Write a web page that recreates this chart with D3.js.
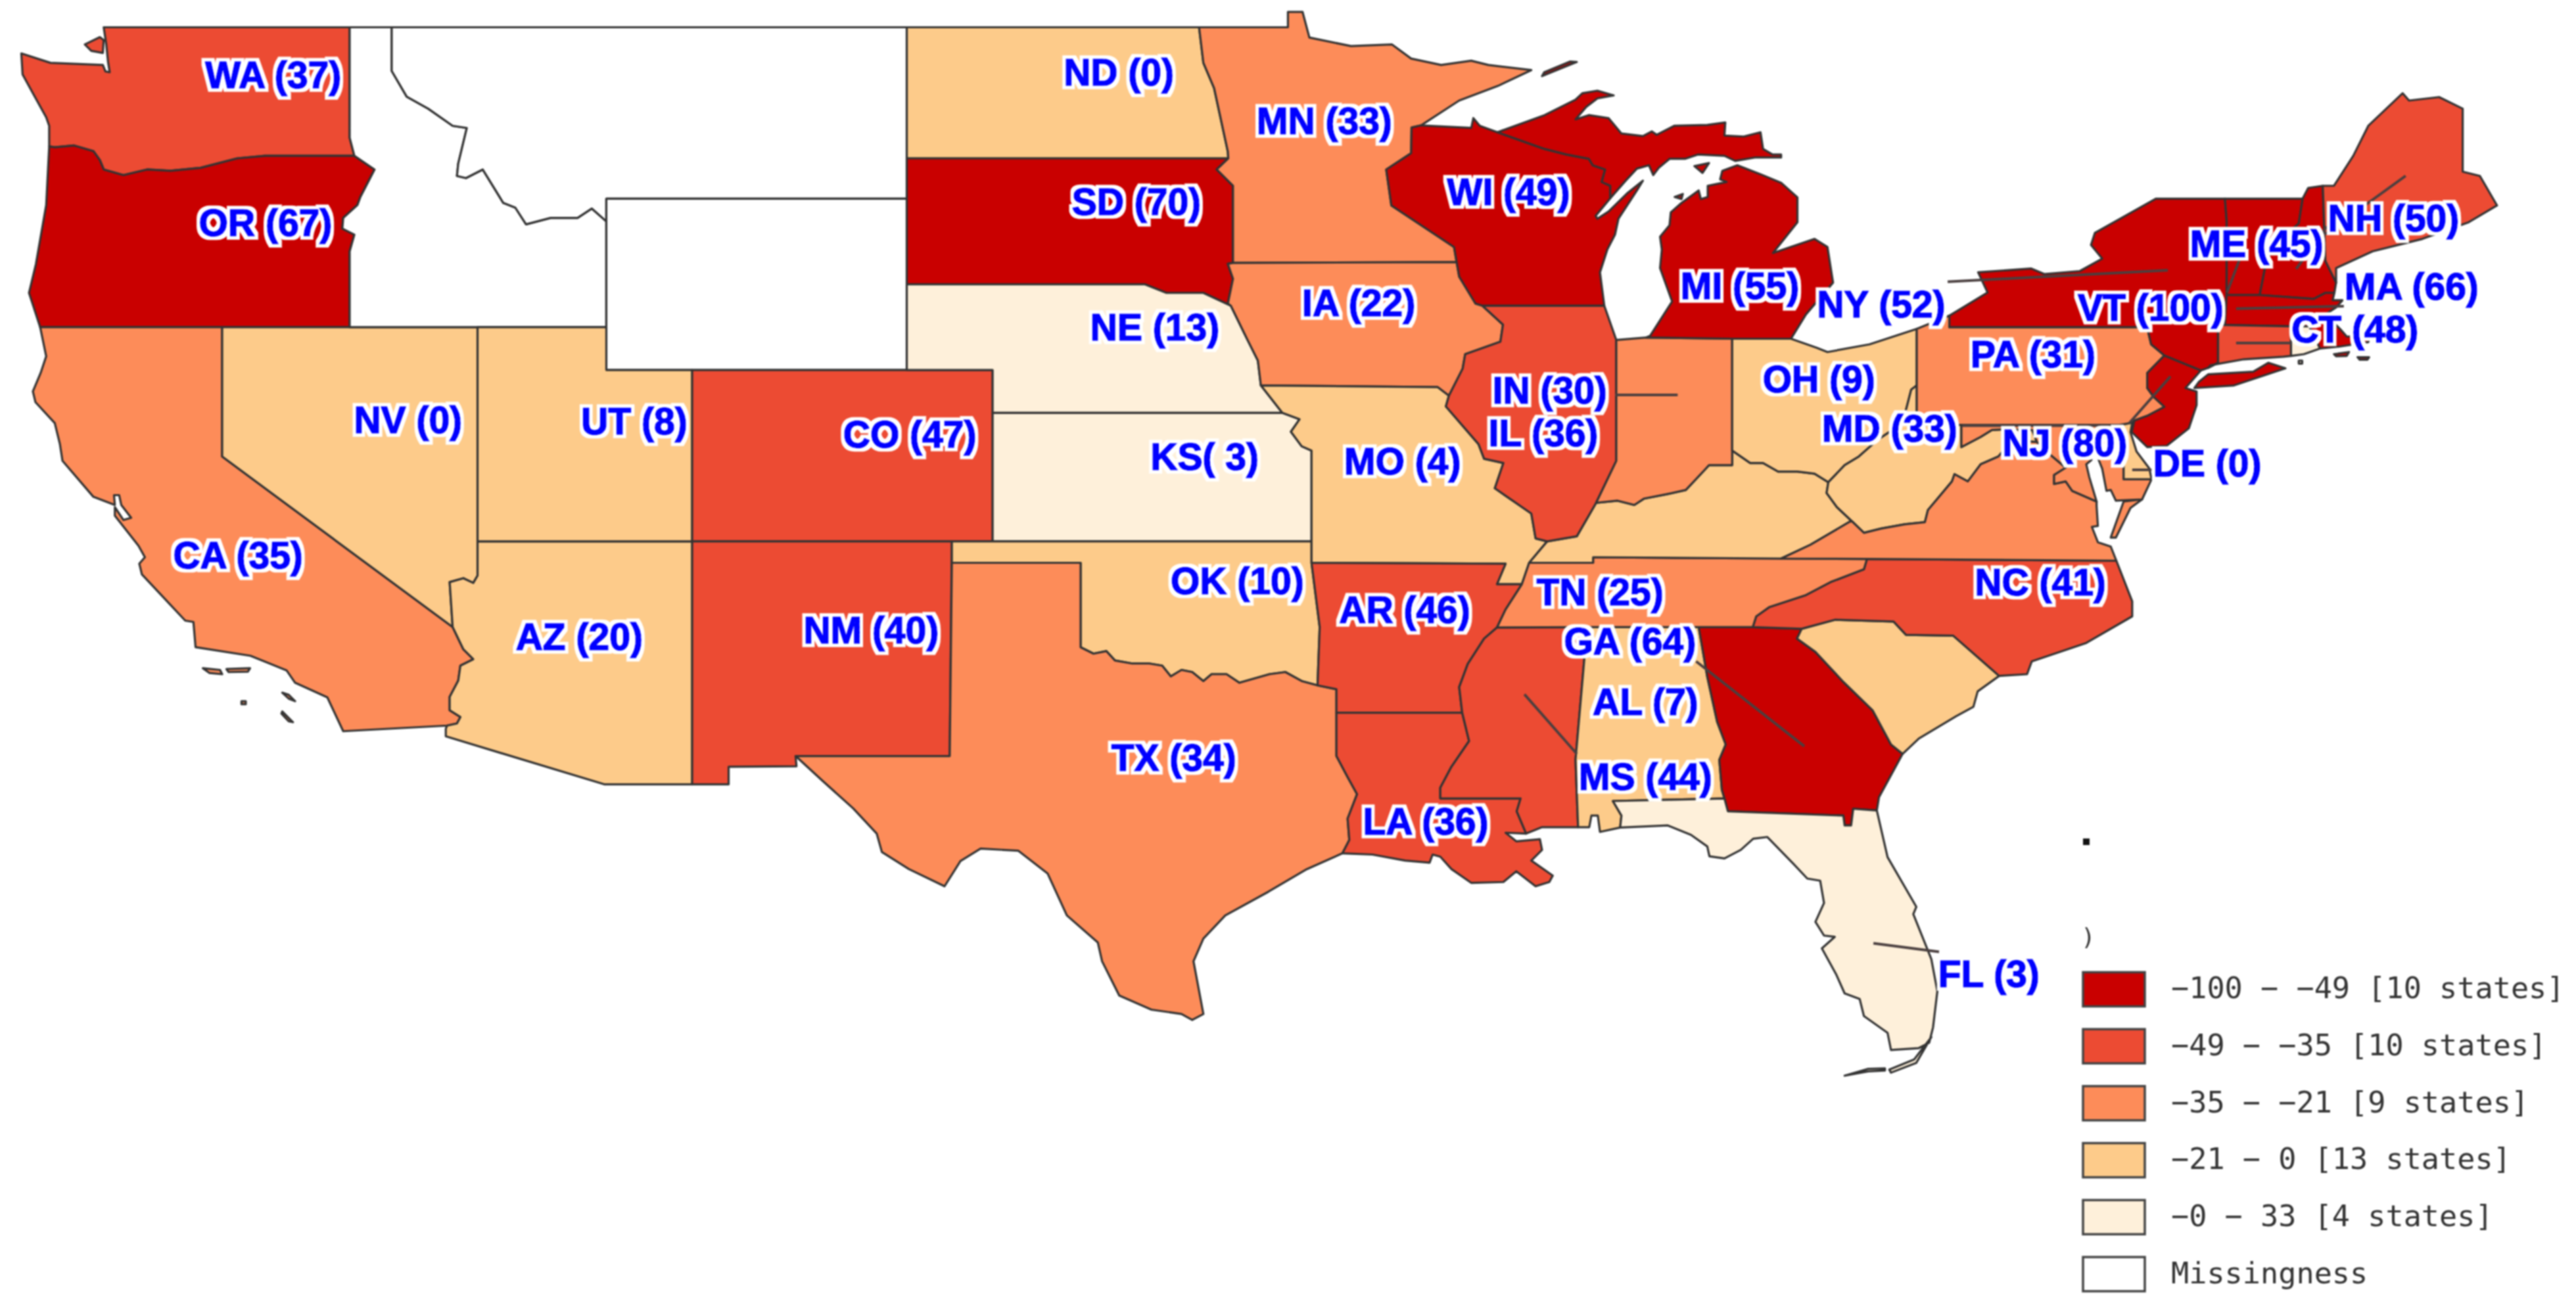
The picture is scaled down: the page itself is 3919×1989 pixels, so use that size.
<!DOCTYPE html>
<html>
<head>
<meta charset="utf-8">
<script src="https://cdn.jsdelivr.net/npm/d3@7/dist/d3.min.js"></script>
<style>
html, body { margin: 0; padding: 0; background: #fff; overflow: hidden; }
svg { display: block; }
</style>
</head>
<body>
<script>
const WIDTH = 3919
const HEIGHT = 1989

// legend classes, darkest first
const legendLabels = ["−100 − −49 [10 states]", "−49 − −35 [10 states]", "−35 − −21 [9 states]", "−21 − 0 [13 states]", "−0 − 33 [4 states]", "Missingness"]
const classColors = ["#c90000", "#ec4b33", "#fd8c59", "#fdcb8a", "#fef0da", "#ffffff"]
const classStates = [
	["OR", "SD", "WI", "MI", "NY", "VT", "NJ", "GA", "MA", "NH"],
	["WA", "CO", "NM", "AR", "LA", "MS", "IL", "NC", "ME", "CT"],
	["CA", "TX", "MN", "IA", "IN", "TN", "PA", "MD", "VA"],
	["ND", "NV", "UT", "AZ", "MO", "OK", "OH", "KY", "WV", "SC", "AL", "DE"],
	["NE", "KS", "FL", "RI"],
	["ID", "MT", "WY"]
]

// state labels as printed on the map
const labelCodes = ["WA", "OR", "CA", "NV", "UT", "AZ", "NM", "CO", "ND", "SD", "NE", "KS", "OK", "TX", "MN", "IA", "MO", "AR", "LA", "WI", "IL", "IN", "MI", "TN", "MS", "AL", "GA", "FL", "NC", "OH", "NY", "PA", "MD", "NJ", "DE", "VT", "ME", "NH", "MA", "CT"]
const labelTexts = ["WA (37)", "OR (67)", "CA (35)", "NV (0)", "UT (8)", "AZ (20)", "NM (40)", "CO (47)", "ND (0)", "SD (70)", "NE (13)", "KS( 3)", "OK (10)", "TX (34)", "MN (33)", "IA (22)", "MO (4)", "AR (46)", "LA (36)", "WI (49)", "IL (36)", "IN (30)", "MI (55)", "TN (25)", "MS (44)", "AL (7)", "GA (64)", "FL (3)", "NC (41)", "OH (9)", "NY (52)", "PA (31)", "MD (33)", "NJ (80)", "DE (0)", "VT (100)", "ME (45)", "NH (50)", "MA (66)", "CT (48)"]
const labelLon = [-118.81, -118.99, -119.63, -115.67, -110.40, -111.68, -104.88, -103.98, -99.11, -98.70, -98.27, -97.11, -96.35, -97.83, -94.32, -93.52, -92.50, -92.45, -91.96, -90.03, -89.22, -89.07, -84.64, -87.90, -86.84, -86.84, -87.20, -78.84, -77.64, -82.80, -81.35, -77.81, -81.15, -77.07, -73.75, -75.07, -72.60, -69.41, -68.99, -70.31]
const labelLat = [47.90, 44.45, 36.69, 39.85, 39.81, 34.79, 34.93, 39.51, 47.95, 44.94, 42.01, 38.98, 36.09, 31.96, 46.83, 42.58, 38.88, 35.41, 30.47, 45.17, 39.53, 40.53, 42.98, 35.83, 31.51, 33.27, 34.68, 26.92, 36.05, 40.80, 42.55, 41.37, 39.64, 39.31, 38.83, 42.47, 43.96, 44.55, 42.96, 41.96]

// leader lines from labels into small states: lon, lat, lon, lat
const leaders = [
	[-79.80, 43.06, -74.67, 43.33], [-69.13, 45.53, -71.73, 43.65], [-71.68, 43.36, -70.96, 44.35],
	[-73.00, 43.58, -73.29, 42.81], [-73.08, 42.43, -70.57, 42.49], [-73.08, 41.63, -71.79, 41.63],
	[-74.61, 40.85, -75.57, 39.76], [-75.50, 38.67, -75.05, 38.67], [-79.46, 39.70, -75.80, 39.70],
	[-87.55, 40.42, -86.09, 40.42], [-85.66, 34.20, -83.14, 32.22], [-89.66, 33.43, -88.44, 32.04],
	[-81.53, 27.62, -80.00, 27.42]
]

// borders shared by two states
const columbia = [[-124.03,46.22],[-123.9,46.2],[-123.45,46.24],[-123.0,46.11],[-122.85,45.9],[-122.76,45.68],[-122.3,45.55],[-121.75,45.68],[-121.2,45.65],[-120.5,45.72],[-119.65,45.94],[-119.0,46.0],[-116.92,46.0]]
const snake = [[-116.92,46.0],[-116.45,45.68],[-116.78,45.04],[-116.85,44.85],[-117.18,44.55],[-117.2,44.3],[-116.92,44.16],[-117.03,43.77],[-117.03,42]]
const coloradoRiver = [[-114.63,35],[-114.38,34.48],[-114.15,34.25],[-114.45,34.1],[-114.5,33.75],[-114.7,33.37],[-114.7,33.06],[-114.45,32.9],[-114.53,32.75],[-114.76,32.7]]
const idahoMontana = [[-116.05,49],[-116.05,47.98],[-115.7,47.38],[-115.2,47.1],[-114.63,46.7],[-114.3,46.65],[-114.5,45.82],[-114.53,45.53],[-114.32,45.48],[-113.93,45.68],[-113.45,44.9],[-113.17,44.79],[-112.92,44.4],[-112.35,44.55],[-111.72,44.55],[-111.39,44.77],[-111.05,44.47]]
const redRiver = [[-94.48,33.64],[-94.85,33.74],[-95.23,33.95],[-95.6,33.9],[-96.3,33.7],[-96.6,33.9],[-96.95,33.9],[-97.14,33.74],[-97.4,33.95],[-97.65,34.0],[-97.9,33.85],[-98.1,34.1],[-98.4,34.15],[-98.8,34.15],[-99.2,34.22],[-99.4,34.44],[-99.7,34.38],[-100,34.53]]
const sabine = [[-94.04,31.99],[-93.78,31.5],[-93.56,31.1],[-93.78,30.53],[-93.74,30.03],[-93.9,29.72]]
const lowerMiss = [[-90.3,34.99],[-90.6,34.73],[-90.98,34.14],[-91.18,33.6],[-91.11,33],[-90.95,32.34],[-91.36,31.74],[-91.62,31.25],[-91.62,31]]
const midMiss = [[-89.72,36],[-90.1,35.41],[-90.3,34.99]]
const bootheel = [[-90.1,36.48],[-90.3,36],[-89.72,36]]
const ilMo = [[-91.42,40.4],[-91.49,40.15],[-90.73,39.27],[-90.6,38.93],[-90.15,38.83],[-90.35,38.24],[-89.5,37.65],[-89.4,37.07],[-89.13,37]]
const iaIl = [[-90.64,42.5],[-90.16,42.06],[-90.22,41.66],[-91.04,41.37],[-91.1,41.03],[-91.42,40.4]]
const mnWi = [[-92.29,46.66],[-92.3,46.06],[-92.88,45.68],[-92.76,44.84],[-91.3,43.87],[-91.24,43.52]]
const iaWi = [[-91.24,43.52],[-91.18,43.18],[-90.8,42.55],[-90.64,42.5]]
const wiMi = [[-90.29,46.55],[-89.19,46.16],[-88.68,46.03],[-88.16,45.93],[-88.07,45.78],[-87.78,45.68],[-87.86,45.39],[-87.66,45.3],[-87.66,45.01]]
const mnND = [[-97.24,49],[-97.14,48.17],[-96.89,47.58],[-96.57,46.1],[-96.56,45.94]]
const mnSD = [[-96.56,45.94],[-96.83,45.68],[-96.45,45.3],[-96.45,43.5]]
const iaSD = [[-96.45,43.5],[-96.57,43.48],[-96.45,43.13],[-96.57,42.55],[-96.5,42.5]]
const iaNE = [[-96.5,42.5],[-96.12,41.72],[-95.87,41.22],[-95.8,40.64]]
const moKS = [[-95.3,40],[-94.9,39.85],[-95.1,39.56],[-94.85,39.22],[-94.62,39.12],[-94.62,37]]
const sdNE = [[-104.05,43],[-98.5,43],[-98,42.8],[-97.14,42.8],[-96.5,42.5]]
const ohioKyIn = [[-84.82,39.12],[-84.82,38.78],[-85.36,38.78],[-85.46,38.67],[-85.9,38.2],[-86.35,38.1],[-86.87,38],[-87.1,37.85],[-87.49,37.95],[-87.99,37.9]]
const ohioKyIl = [[-87.99,37.9],[-88.44,37.12],[-89.13,37]]
const ohioOhKy = [[-84.82,39.12],[-84.4,38.83],[-84.1,38.83],[-83.75,38.63],[-83.3,38.63],[-82.9,38.58],[-82.58,38.38]]
const ohioWv = [[-82.58,38.38],[-82.2,38.78],[-81.87,38.98],[-81.43,39.37],[-80.85,39.76],[-80.65,40.54],[-80.52,40.64]]
const kyWv = [[-82.58,38.38],[-82.62,38.13],[-82.38,37.8],[-82.03,37.47]]
const vaWv = [[-82.03,37.47],[-81.75,37.2],[-81.35,37.3],[-80.8,37.4],[-80.33,37.45],[-80.26,37.73],[-79.7,38.4],[-79.64,38.57],[-79.33,38.4],[-79.03,38.8],[-78.62,38.98],[-78.3,39.35],[-77.72,39.32]]
const mdWv = [[-79.48,39.2],[-79.03,39.44],[-78.77,39.6],[-78.4,39.62],[-78,39.6],[-77.83,39.6],[-77.72,39.32]]
const potomac = [[-77.72,39.32],[-77.5,39.1],[-77.05,38.72],[-77.32,38.55],[-77.32,38.34],[-77.05,38.4],[-76.9,38.18],[-76.33,37.93]]
const kyVa = [[-83.68,36.6],[-83,36.92],[-82.08,37.46],[-82.03,37.47]]
const tnNc = [[-81.68,36.59],[-81.75,36.35],[-82.53,36.05],[-83.12,35.74],[-83.95,35.47],[-84.26,35.25],[-84.34,35]]
const gaSc = [[-83.2,34.96],[-83.31,34.73],[-82.88,34.42],[-82.23,33.72],[-81.55,33.06],[-81.12,32.26],[-80.85,32.04]]
const alGa = [[-85.6,35],[-85.4,33.84],[-85.17,32.79],[-84.97,32.26],[-85.12,31.9],[-85.06,31.2],[-85,31]]
const flGa = [[-85,31],[-84.92,30.7],[-82.23,30.6],[-82.2,30.37],[-82.05,30.37],[-82,30.76],[-81.45,30.72]]
const ncSc = [[-83.2,34.96],[-82.43,35.17],[-81.06,35.13],[-80.77,34.82],[-79.67,34.8],[-78.6,33.86]]
const delawareRiver = [[-75.35,42],[-75.13,41.9],[-75.06,41.6],[-74.75,41.34],[-75.15,40.93],[-75.15,40.58],[-75,40.37],[-74.75,40.14],[-75.15,39.93],[-75.45,39.82],[-75.5,39.77]]
const connRiver = [[-71.53,45],[-71.62,44.42],[-72.05,44.05],[-72.37,43.57],[-72.53,42.75]]

const rev = a => a.slice().reverse()

const WA = [[-122.76,49],[-117.03,49],[-117.03,46.42],...rev(columbia),[-124.03,46.7],[-124.1,46.9],[-124.35,47.35],[-124.65,47.9],[-124.68,48.39],[-124,48.17],[-122.78,48.12],[-122.72,47.97],[-122.62,47.95],[-122.66,48.2],[-122.7,48.6]]
const WAisle = [[-123.2,48.6],[-122.85,48.77],[-122.76,48.7],[-122.78,48.4],[-123.05,48.45]]
const OR = [...columbia,...snake,[-120,42],[-124.24,42],[-124.5,42.8],[-124.34,43.47],[-124.1,44.85]]
const CA = [[-124.24,42],[-120,42],[-120,38.98],...coloradoRiver,[-117.18,32.57],[-117.55,33.36],[-118.3,33.7],[-118.5,33.99],[-119.34,34.33],[-120.62,34.53],[-120.67,35.12],[-120.86,35.15],[-121.87,36.23],[-121.93,36.48],[-121.8,36.63],[-121.95,36.9],[-122.5,37.6],[-122.5,37.8],[-122.3,37.5],[-122.12,37.55],[-122.35,37.85],[-122.4,38.08],[-122.52,38.08],[-122.5,37.85],[-123,38.04],[-123.72,38.88],[-123.78,39.27],[-123.9,39.76],[-124.35,40.25],[-124.41,40.5],[-124.23,40.93],[-124.1,41.32]]
const CAisles = [
	[[-120.45,34.04],[-120.05,34],[-120,33.9],[-120.3,33.93]],
	[[-119.9,34.02],[-119.35,34.04],[-119.4,33.96],[-119.85,33.95]],
	[[-118.6,33.47],[-118.45,33.42],[-118.3,33.27],[-118.45,33.33]],
	[[-118.6,33.03],[-118.35,32.78],[-118.45,32.8],[-118.62,32.98]],
	[[-119.55,33.27],[-119.45,33.27],[-119.45,33.2],[-119.55,33.2]]
]
const NV = [[-120,42],[-114.05,42],[-114.05,36.2],[-114.15,36.03],[-114.38,36.14],[-114.7,36.05],[-114.63,35],[-120,38.98]]
const AZ = [[-114.05,37],[-109.05,37],[-109.05,31.33],[-111.1,31.33],[-114.79,32.45],[-114.79,32.63],...rev(coloradoRiver),[-114.7,36.05],[-114.38,36.14],[-114.15,36.03],[-114.05,36.2]]
const ID = [[-117.03,49],...idahoMontana,[-111.05,42],[-117.03,42],...rev(snake),[-117.03,46.42]]
const MT = [...idahoMontana,[-111.05,45],[-104.05,45],[-104.05,49]]
const WY = [[-111.05,45],[-104.05,45],[-104.05,41],[-111.05,41]]
const UT = [[-114.05,42],[-111.05,42],[-111.05,41],[-109.05,41],[-109.05,37],[-114.05,37]]
const CO = [[-109.05,41],[-102.05,41],[-102.05,37],[-109.05,37]]
const NM = [[-109.05,37],[-103,37],[-103.05,31.99],[-106.64,31.99],[-106.62,31.75],[-108.2,31.74],[-108.2,31.33],[-109.05,31.33]]
const ND = [[-104.05,49],...mnND,[-104.05,45.94]]
const SD = [[-104.05,45.94],[-96.56,45.94],...mnSD.slice(1),...iaSD.slice(1),...rev(sdNE).slice(1)]
const NE = [...sdNE,...iaNE.slice(1),[-95.3,40],[-102.05,40],[-102.05,41],[-104.05,41]]
const KS = [[-102.05,40],...moKS,[-102.05,37]]
const OK = [[-103,37],[-94.62,37],[-94.62,36.5],[-94.43,35],...redRiver,[-100,36.5],[-103,36.5]]
const TX = [[-103,36.5],[-100,36.5],...rev(redRiver),[-94.04,33.55],...sabine,[-94.73,29.35],[-95.63,28.82],[-96.63,28.27],[-97.14,27.73],[-97.37,27.2],[-97.14,25.97],[-97.4,25.83],[-97.65,25.97],[-98.35,26.07],[-99.1,26.4],[-99.5,27.2],[-99.6,27.64],[-100.32,28.27],[-100.77,29.25],[-101.45,29.78],[-102.33,29.83],[-102.8,29.54],[-103.17,28.95],[-104,29.35],[-104.63,29.75],[-104.75,30.18],[-105.3,30.77],[-106,31.4],[-106.64,31.99],[-103.05,31.99]]
const MN = [[-97.24,49],[-95.17,49],[-95.17,49.36],[-94.83,49.36],[-94.67,48.76],[-93.7,48.56],[-92.75,48.6],[-92.3,48.27],[-91.6,48.12],[-90.9,48.22],[-90.5,48.12],[-89.5,48],[-90.28,47.63],[-91.18,47.29],[-92.07,46.71],...mnWi,...rev(mnSD),...rev(mnND).slice(1)]
const IA = [[-96.45,43.5],[-91.24,43.52],...iaWi.slice(1),...iaIl.slice(1),[-91.68,40.6],[-95.8,40.64],...rev(iaNE).slice(1),...rev(iaSD).slice(1)]
const MO = [[-95.8,40.64],[-91.68,40.6],...ilMo,[-89.55,36.5],[-89.72,36],[-90.3,36],[-90.1,36.48],[-94.62,36.5],...rev(moKS)]
const AR = [[-94.62,36.5],...bootheel,...midMiss.slice(1),...lowerMiss.slice(1,5),[-94.04,33],[-94.04,33.55],[-94.48,33.64],[-94.43,35]]
const LA = [[-94.04,33],[-91.11,33],[-90.95,32.34],[-91.36,31.74],[-91.62,31.25],[-91.62,31],[-89.75,31],[-89.84,30.7],[-89.62,30.18],[-90.1,30.2],[-89.85,30],[-89.3,30.05],[-89.25,29.8],[-89.5,29.55],[-89,29.2],[-89.08,29.05],[-89.4,28.95],[-89.85,29.3],[-90.15,29.05],[-90.9,29.03],[-91.36,29.35],[-91.62,29.64],[-91.8,29.69],[-91.87,29.5],[-92.44,29.55],[-93.2,29.69],[-93.9,29.72],...rev(sabine).slice(1)]
const MS = [[-90.3,34.99],[-88.2,35],[-88.47,31.9],[-88.41,30.33],[-89.25,30.33],[-89.62,30.18],[-89.84,30.7],[-89.75,31],[-91.62,31],...rev(lowerMiss).slice(1)]
const AL = [[-88.2,35],...alGa,[-87.6,30.94],[-87.4,30.6],[-87.43,30.32],[-87.9,30.22],[-87.95,30.6],[-88.1,30.6],[-88.15,30.33],[-88.41,30.33],[-88.47,31.9]]
const GA = [[-85.6,35],[-84.34,35],[-83.2,34.96],...gaSc.slice(1),[-81.16,31.47],[-81.4,31.03],[-81.45,30.72],...rev(flGa).slice(1),...rev(alGa).slice(1)]
const FL = [[-87.6,30.94],...flGa,[-81.2,29.63],[-80.53,28.47],[-80.6,28.3],[-80.18,27.25],[-80.04,26.5],[-80.14,25.66],[-80.23,25.3],[-80.48,25.17],[-81.12,25.13],[-81.2,25.53],[-81.75,25.92],[-81.85,26.32],[-82.2,26.45],[-82.4,26.9],[-82.73,27.5],[-82.43,27.77],[-82.68,27.8],[-82.88,28.12],[-82.68,28.56],[-82.77,29.08],[-83.07,29.13],[-83.4,29.48],[-84,30.1],[-84.33,30.06],[-84.62,29.8],[-85,29.6],[-85.35,29.65],[-85.4,29.88],[-85.78,30.15],[-86.32,30.37],[-87.43,30.32],[-87.4,30.6]]
const FLkeys = [
	[[-81.26,24.7],[-81.65,24.69],[-82.2,24.53],[-81.65,24.63],[-81.26,24.65]],
	[[-81.16,24.67],[-80.58,24.91],[-80.18,25.43],[-80.53,24.83],[-81.12,24.6]]
]
const SC = [...ncSc,[-79.1,33.5],[-79.2,33.14],[-79.6,32.92],[-80.47,32.4],...rev(gaSc).slice(0,-1)]
const NC = [[-75.87,36.55],[-81.68,36.59],...tnNc.slice(1),[-83.2,34.96],...ncSc.slice(1),[-77.95,33.9],[-77.84,34.2],[-76.57,34.63],[-75.5,35.25],[-75.5,35.6]]
const TN = [[-89.55,36.5],[-88.06,36.5],[-88.06,36.63],[-83.68,36.6],...tnNc,[-85.6,35],[-88.2,35],[-90.3,34.99],...rev(midMiss).slice(1)]
const KY = [[-89.13,37],...rev(ohioKyIl).slice(1),...rev(ohioKyIn).slice(1),...ohioOhKy.slice(1),...kyWv.slice(1),...rev(kyVa).slice(1),[-88.06,36.63],[-88.06,36.5],[-89.55,36.5]]
const WI = [[-92.29,46.66],[-92.07,46.71],[-90.9,46.65],[-90.85,46.88],[-90.7,46.7],...wiMi,[-88,44.6],[-87.96,44.53],[-87.7,44.7],[-87.25,45.14],[-86.9,45.42],[-87.04,45.19],[-87.47,44.53],[-87.55,44.16],[-87.73,43.81],[-87.9,43.28],[-87.8,42.5],...rev(iaWi),...rev(mnWi).slice(1)]
const IL = [[-87.8,42.5],[-87.52,41.7],[-87.52,38.88],[-87.99,37.9],...ohioKyIl.slice(1),...rev(ilMo).slice(1),...rev(iaIl).slice(1)]
const IN = [[-87.52,41.7],[-86.82,41.76],[-84.82,41.73],...ohioKyIn,[-87.52,38.88]]
const MIlower = [[-86.82,41.76],[-84.82,41.73],[-83.45,41.73],[-83.1,42.3],[-82.47,43.04],[-82.6,43.87],[-82.9,44.06],[-83.87,43.73],[-83.3,44.45],[-83.3,45.03],[-83.68,45.37],[-84.16,45.57],[-84.7,45.78],[-85.05,45.65],[-85.1,45.45],[-84.95,45.39],[-85.39,45.3],[-85.39,45.04],[-85.55,44.99],[-85.6,45.19],[-86,44.9],[-86.25,44.68],[-86.28,44.38],[-86.5,44.11],[-86.46,43.81],[-86.5,43.38],[-86.22,42.6],[-86.73,41.8]]
const MIupper = [...wiMi,[-87.3,45.42],[-87.04,45.7],[-86.76,45.78],[-86.66,45.55],[-86.53,45.72],[-86.28,45.93],[-85.92,45.93],[-85.62,46.03],[-85,46],[-84.75,45.88],[-84.29,45.96],[-83.68,45.96],[-83.68,46.03],[-83.88,46.03],[-84.1,46.16],[-84.16,46.55],[-84.55,46.45],[-85,46.47],[-84.98,46.78],[-85.4,46.72],[-86.17,46.7],[-86.58,46.49],[-86.69,46.57],[-86.9,46.46],[-87.4,46.52],[-87.7,46.88],[-88.16,46.95],[-88.47,46.85],[-88.22,47.14],[-87.96,47.34],[-87.58,47.41],[-87.96,47.52],[-88.31,47.46],[-88.47,47.31],[-89.19,46.95]]
const MIroyale = [[-89.25,47.86],[-88.44,48.19],[-88.6,48.2],[-89.2,47.95]]
const MIbeaver = [[-85.7,45.76],[-85.36,45.83],[-85.51,45.6]]
const MImanitou = [[-86.16,45.04],[-85.97,45.11],[-86,44.99]]
const OH = [[-84.82,41.73],[-83.45,41.73],[-82.85,41.52],[-82.6,41.42],[-81.62,41.6],[-80.52,41.96],[-80.52,40.64],...rev(ohioWv).slice(1),...rev(ohioOhKy).slice(1)]
const WV = [[-80.52,40.64],[-80.52,39.72],[-79.48,39.72],...mdWv,...rev(vaWv).slice(1),...rev(kyWv).slice(1),...ohioWv.slice(1)]
const VA = [...potomac,[-76.33,37.83],[-76.3,37.36],[-76.44,37.34],[-76.3,36.98],[-76,36.88],[-75.87,36.55],[-81.68,36.59],...kyVa,...vaWv.slice(1)]
const VAshore = [[-76,37.09],[-75.7,37.93],[-75.27,37.98],[-75.54,37.78],[-75.88,37.09]]
const MD = [[-79.48,39.72],[-75.79,39.72],[-75.7,38.75],[-75.7,38.45],[-75.05,38.45],[-75.27,37.98],[-75.88,37.95],[-76,38.2],[-76.1,38.18],[-76.2,38.7],[-76.3,38.95],[-76.3,39.2],[-76.45,39.2],[-76.45,38.9],[-76.57,38.8],[-76.5,38.5],...rev(potomac),...rev(mdWv).slice(1)]
const DE = [[-75.79,39.72],[-75.5,39.77],[-75.54,39.55],[-75.4,39.1],[-75.1,38.7],[-75.05,38.45],[-75.7,38.45],[-75.7,38.75]]
const PA = [[-80.52,41.96],[-79.76,42.27],[-79.76,42],...delawareRiver,[-75.79,39.72],[-80.52,39.72]]
const NJ = [[-74.75,41.34],[-73.9,40.99],[-74.26,40.58],[-74,40.5],[-74,40.18],[-74.18,39.64],[-74.7,39.23],[-75.15,39.2],[-75.51,39.55],[-75.45,39.82],[-75.15,39.93],[-74.75,40.14],[-75,40.37],[-75.15,40.58],[-75.15,40.93]]
const NY = [[-79.76,42],[-79.76,42.27],[-78.87,42.81],[-79.09,43.28],[-77.86,43.37],[-77.55,43.24],[-76.72,43.31],[-76.2,43.6],[-76.46,43.92],[-76.37,44.2],[-74.95,45],[-73.34,45],[-73.3,44.48],[-73.3,42.75],[-73.34,42.05],[-73.5,42.05],[-73.5,41.17],[-73.73,41.05],[-73.9,40.99],[-74.75,41.34],[-75.06,41.6],[-75.13,41.9],[-75.35,42]]
const NYisland = [[-74.05,40.58],[-73.13,40.64],[-71.93,41.04],[-72.33,41.17],[-72.68,40.96],[-73.73,40.9],[-73.95,40.72]]
const VT = [[-73.34,45],...connRiver,[-73.3,42.75],[-73.3,44.48]]
const NH = [...connRiver,[-71.27,42.66],[-71,42.8],[-70.79,42.8],[-70.75,43.04],[-71,43.55],[-71.06,45.3],[-71.4,45.25]]
const ME = [[-71.06,45.3],[-70.8,45.3],[-70.35,46],[-70,46.7],[-69.2,47.46],[-69.05,47.29],[-68.35,47.37],[-67.8,47.1],[-67.8,45.63],[-67.4,45.53],[-67,44.84],[-67.66,44.45],[-68.74,44.06],[-69.9,43.77],[-70.75,43.38],[-70.75,43.04],[-71,43.55]]
const MA = [[-73.3,42.75],[-72.53,42.75],[-71.27,42.66],[-71,42.8],[-70.79,42.8],[-70.83,42.63],[-70.6,42.63],[-70.75,42.46],[-71,42.3],[-70.65,41.95],[-70.5,41.78],[-70.1,41.8],[-70.25,42.07],[-70.05,42.05],[-69.95,41.85],[-70,41.65],[-70.65,41.55],[-71.13,41.5],[-71.2,41.67],[-71.38,42.02],[-71.8,42.02],[-73.34,42.05]]
const MAisles = [
	[[-70.8,41.37],[-70.45,41.42],[-70.5,41.33],[-70.75,41.32]],
	[[-70.25,41.3],[-69.98,41.3],[-70.02,41.24],[-70.2,41.24]]
]
const CT = [[-73.5,42.05],[-73.34,42.05],[-71.8,42.02],[-71.8,41.33],[-71.98,41.31],[-72.9,41.25],[-73.68,41.11],[-73.73,41.05],[-73.5,41.17]]
const RI = [[-71.8,42.02],[-71.38,42.02],[-71.2,41.67],[-71.13,41.5],[-71.5,41.37],[-71.8,41.33]]
const RIisle = [[-71.62,41.22],[-71.54,41.22],[-71.54,41.15],[-71.62,41.15]]

const stateRings = {
	WA: [WA, WAisle], OR: [OR], CA: [CA, ...CAisles], NV: [NV], AZ: [AZ], ID: [ID], MT: [MT], WY: [WY], UT: [UT], CO: [CO], NM: [NM],
	ND: [ND], SD: [SD], NE: [NE], KS: [KS], OK: [OK], TX: [TX], MN: [MN], IA: [IA], MO: [MO], AR: [AR], LA: [LA], MS: [MS], AL: [AL],
	GA: [GA], FL: [FL, ...FLkeys], SC: [SC], NC: [NC], TN: [TN], KY: [KY], WI: [WI], IL: [IL], IN: [IN], MI: [MIlower, MIupper, MIroyale, MIbeaver, MImanitou],
	OH: [OH], WV: [WV], VA: [VA, VAshore], MD: [MD], DE: [DE], PA: [PA], NJ: [NJ], NY: [NY, NYisland], VT: [VT], NH: [NH], ME: [ME],
	MA: [MA, ...MAisles], CT: [CT], RI: [RI, RIisle]
}

const x = d3.scaleLinear().domain([-125, -66]).range([11.5, 3864.2])
const y = d3.scaleLinear().domain([49, 25]).range([41.5, 1606.3])
const line = d3.line().x(d => x(d[0])).y(d => y(d[1]))

const classOf = {}
classStates.forEach((list, i) => list.forEach(s => { classOf[s] = i }))
const fillScale = d3.scaleOrdinal().domain(d3.range(classColors.length)).range(classColors)

const svg = d3.select("body").append("svg")
	.attr("width", WIDTH)
	.attr("height", HEIGHT)
	.style("filter", "blur(0.9px)")

svg.append("rect").attr("width", WIDTH).attr("height", HEIGHT).attr("fill", "#fff")

// white halo round the labels
const halo = svg.append("defs").append("filter")
	.attr("id", "halo")
	.attr("x", "-10%").attr("y", "-20%").attr("width", "120%").attr("height", "140%")
halo.append("feMorphology").attr("in", "SourceAlpha").attr("operator", "dilate").attr("radius", 4.5).attr("result", "grown")
halo.append("feFlood").attr("flood-color", "#fff").attr("result", "white")
halo.append("feComposite").attr("in", "white").attr("in2", "grown").attr("operator", "in").attr("result", "ring")
const haloMerge = halo.append("feMerge")
haloMerge.append("feMergeNode").attr("in", "ring")
haloMerge.append("feMergeNode").attr("in", "SourceGraphic")

// states
svg.append("g").selectAll("path")
	.data(Object.keys(stateRings))
	.join("path")
	.attr("d", code => stateRings[code].map(r => line(r) + "Z").join(""))
	.attr("fill", code => fillScale(classOf[code]))
	.attr("stroke", "#333")
	.attr("stroke-width", 3.2)
	.attr("stroke-linejoin", "round")

// leaders
svg.append("g").selectAll("line")
	.data(leaders)
	.join("line")
	.attr("x1", d => x(d[0])).attr("y1", d => y(d[1]))
	.attr("x2", d => x(d[2])).attr("y2", d => y(d[3]))
	.attr("stroke", "#4a3f3f")
	.attr("stroke-width", 4)

// labels
svg.append("g").attr("filter", "url(#halo)").selectAll("text")
	.data(labelCodes)
	.join("text")
	.attr("x", (d, i) => x(labelLon[i]))
	.attr("y", (d, i) => y(labelLat[i]))
	.attr("dy", "0.36em")
	.attr("text-anchor", "middle")
	.attr("font-family", "'Liberation Sans', Arial, sans-serif")
	.attr("font-weight", "bold")
	.attr("font-size", 57)
	.attr("fill", "#0000ff")
	.attr("stroke", "#0000ff")
	.attr("stroke-width", 1.6)
	.text((d, i) => labelTexts[i])

// legend
const legendY = d3.scaleLinear().domain([0, 5]).range([1505.5, 1939])
const legend = svg.append("g")
legend.selectAll("rect")
	.data(legendLabels)
	.join("rect")
	.attr("x", 3169)
	.attr("y", (d, i) => legendY(i) - 26)
	.attr("width", 94)
	.attr("height", 52)
	.attr("fill", (d, i) => classColors[i])
	.attr("stroke", "#444")
	.attr("stroke-width", 3.5)
legend.selectAll("text")
	.data(legendLabels)
	.join("text")
	.attr("x", 3303)
	.attr("y", (d, i) => legendY(i) - 1.5)
	.attr("dy", "0.34em")
	.attr("font-family", "'DejaVu Sans Mono', monospace")
	.attr("font-size", 45.2)
	.attr("fill", "#333")
	.text(d => d)

// stray bits of the cropped legend
legend.append("rect").attr("x", 3169).attr("y", 1276).attr("width", 10).attr("height", 10).attr("fill", "#111")
legend.append("text").attr("x", 3166).attr("y", 1438).attr("font-family", "'DejaVu Sans Mono', monospace").attr("font-size", 36).attr("fill", "#333").text(")")
</script>
</body>
</html>
